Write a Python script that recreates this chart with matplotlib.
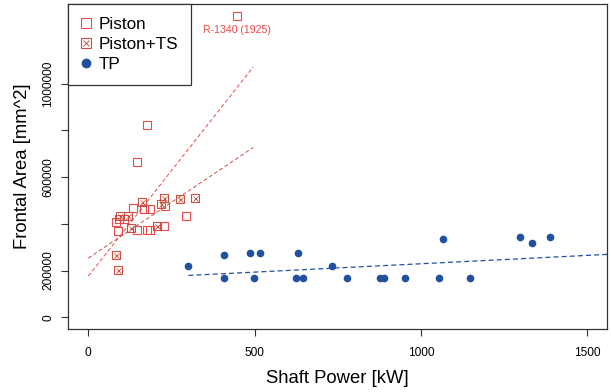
import matplotlib
matplotlib.use("Agg")
import matplotlib.pyplot as plt
from matplotlib.legend_handler import HandlerTuple

plt.rcParams['font.family'] = ['Liberation Sans', 'DejaVu Sans']

# ---- data ----
piston_kw = [446, 176, 146, 136, 168, 186, 82, 91, 107, 90, 148, 176, 186, 228, 293, 231]
piston_area = [1290000, 823000, 663000, 467000, 462000, 462000, 406000, 419000, 419000,
               370000, 373000, 375000, 374000, 392000, 435000, 476000]

ts_kw = [161, 96, 120, 130, 208, 219, 229, 276, 320, 83, 90]
ts_area = [492000, 433000, 432000, 381000, 392000, 484000, 510000, 507000, 510000, 266000, 201000]

tp_kw = [301, 407, 407, 485, 517, 498, 630, 625, 646, 732, 778, 877, 889, 951, 1056,
         1067, 1149, 1299, 1334, 1390]
tp_area = [219000, 267000, 169000, 274000, 274000, 169000, 274000, 169000, 169000, 219000,
           169000, 169000, 169000, 169000, 169000, 336000, 169000, 343000, 317000, 343000]

# fitted trend lines (end points)
piston_fit_kw = [0, 496]
piston_fit_area = [176000, 1072000]
ts_fit_kw = [0, 496]
ts_fit_area = [253000, 727000]
tp_fit_kw = [301, 1600]
tp_fit_area = [179000, 272000]

c_piston = '#EE4848'
c_ts = '#C85040'
c_tp = '#2150A0'

fig = plt.figure(figsize=(6.11, 3.92), dpi=100)
ax = fig.add_axes([0.1118, 0.16, 0.8817, 0.8298])

ax.plot(piston_fit_kw, piston_fit_area, ls=(0, (4, 2.5)), lw=0.7, color=c_piston)
ax.plot(ts_fit_kw, ts_fit_area, ls=(0, (4, 2.5)), lw=0.7, color=c_ts)
ax.plot(tp_fit_kw, tp_fit_area, ls=(0, (4, 2.5)), lw=0.9, color=c_tp)

ax.plot(piston_kw, piston_area, 's', ms=5.2, mfc='none', mec=c_piston, mew=0.8, ls='none')
ax.plot(ts_kw, ts_area, 's', ms=5.2, mfc='none', mec=c_ts, mew=0.8, ls='none')
ax.plot(ts_kw, ts_area, 'x', ms=3.6, mec=c_ts, mew=0.6, ls='none')
ax.plot(tp_kw, tp_area, 'o', ms=4.5, color=c_tp, ls='none')

ax.annotate('R-1340 (1925)', xy=(piston_kw[0], piston_area[0]), xytext=(0, -10),
            textcoords='offset points', ha='center', va='center', fontsize=7.6,
            color=c_piston)

ax.set_xlim(-60, 1560)
ax.set_ylim(-51600, 1341600)
ax.set_xticks([0, 500, 1000, 1500])
ax.set_yticks([0, 200000, 400000, 600000, 800000, 1000000])
ax.set_yticklabels(['0', '200000', '', '600000', '', '1000000'], rotation=90, va='center')
ax.tick_params(axis='both', labelsize=8.6, length=5, width=0.8, color='#333333')
ax.tick_params(axis='x', pad=8)
ax.tick_params(axis='y', pad=5)
for s in ax.spines.values():
    s.set_color('#333333')
    s.set_linewidth(0.9)

ax.set_xlabel('Shaft Power [kW]', fontsize=13.3, labelpad=8)
ax.set_ylabel('Frontal Area [mm^2]', fontsize=13.3, labelpad=8)

h_p_leg, = ax.plot([], [], 's', ms=6.5, mfc='none', mec=c_piston, mew=0.8, ls='none')
h_ts_leg1, = ax.plot([], [], 's', ms=6.5, mfc='none', mec=c_ts, mew=0.8, ls='none')
h_ts_leg2, = ax.plot([], [], 'x', ms=4.8, mec=c_ts, mew=0.7, ls='none')
h_tp_leg, = ax.plot([], [], 'o', ms=6, color=c_tp, ls='none')
leg = ax.legend([h_p_leg, (h_ts_leg1, h_ts_leg2), h_tp_leg], ['Piston', 'Piston+TS', 'TP'],
                handler_map={tuple: HandlerTuple(ndivide=1)},
                loc='upper left', borderaxespad=0, fontsize=12.3, fancybox=False,
                edgecolor='#333333', framealpha=1, handlelength=0.6, handletextpad=0.45,
                labelspacing=0.3, borderpad=0.75)
leg.get_frame().set_linewidth(0.9)

fig.savefig('out.png', dpi=100)
